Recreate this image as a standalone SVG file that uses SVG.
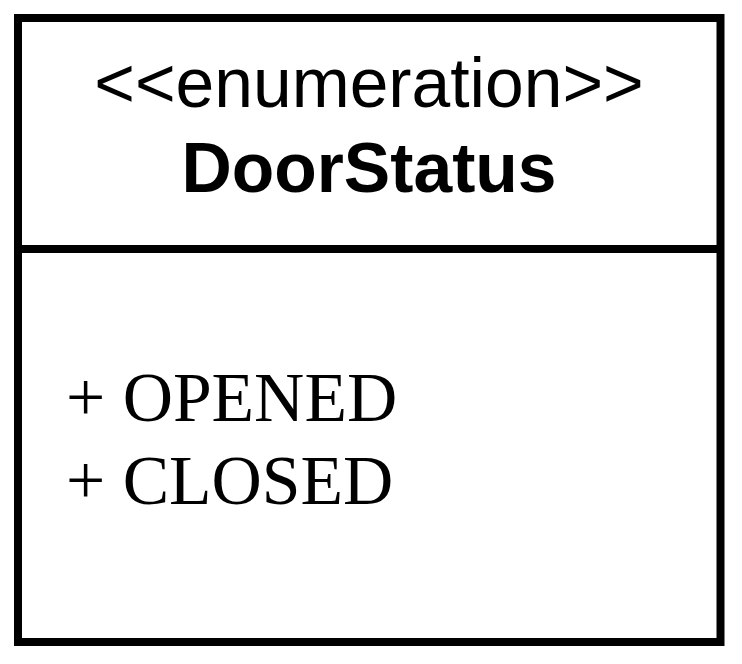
<svg xmlns="http://www.w3.org/2000/svg" width="742" height="664" viewBox="0 0 742 664">
  <style>
    .frame { fill: #ffffff; stroke: #000000; stroke-width: 8; }
    .sep { stroke: #000000; stroke-width: 8; }
    .stereo { font-family: "Liberation Sans", Arial, sans-serif; font-size: 69.6px; fill: #000; text-anchor: middle; }
    .name { font-family: "Liberation Sans", Arial, sans-serif; font-size: 69.6px; font-weight: bold; fill: #000; text-anchor: middle; }
    .lit { font-family: "Liberation Serif", "Times New Roman", serif; font-size: 69.6px; fill: #000; }
  </style>
  <rect width="742" height="664" fill="#ffffff"/>
  <g id="DoorStatus">
    <rect class="frame" x="18" y="18" width="702.5" height="624"/>
    <line class="sep" x1="18" y1="249" x2="720.5" y2="249"/>
    <text class="stereo" x="369" y="107">&lt;&lt;enumeration&gt;&gt;</text>
    <text class="name" x="369" y="192">DoorStatus</text>
    <text class="lit" x="66" y="421">+ OPENED</text>
    <text class="lit" x="66" y="504">+ CLOSED</text>
  </g>
  <g id="connectors"/>
</svg>
